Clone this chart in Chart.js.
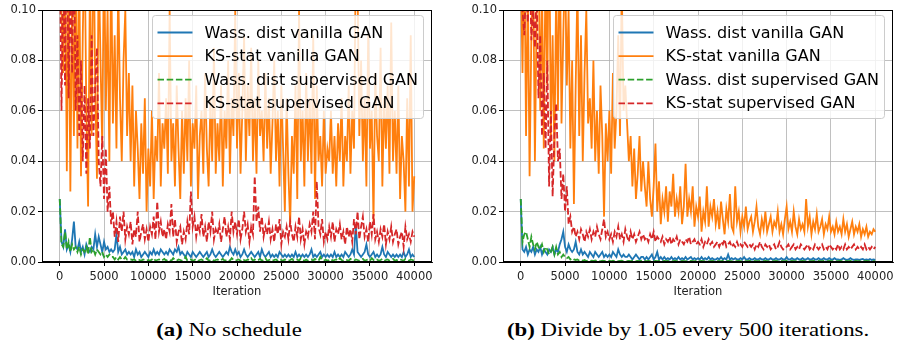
<!DOCTYPE html>
<html>
<head>
<meta charset="utf-8">
<script src="https://cdn.jsdelivr.net/npm/chart.js@4.4.1/dist/chart.umd.min.js"></script>
<style>
  html, body { margin: 0; padding: 0; background: #fff; }
  body { width: 899px; height: 347px; position: relative; overflow: hidden; }
  canvas { position: absolute; top: 0; }
  #cA { left: 0; }
  #cB { left: 450px; }
  .cap { position: absolute; top: 320px; white-space: nowrap; font-family: "Liberation Serif", serif;
         font-size: 19px; line-height: 20px; color: #000; transform: translateX(-50%) scaleX(1.2); }
  .cap b { font-weight: bold; }
</style>
</head>
<body>
<canvas id="cA" width="450" height="305"></canvas>
<canvas id="cB" width="449" height="305"></canvas>
<div class="cap" style="left:229px"><b>(a)</b> No schedule</div>
<div class="cap" style="left:688px"><b>(b)</b> Divide by 1.05 every 500 iterations.</div>
<script>
// ---------- data ----------
const iterationStep = 200;
const iterations = Array.from({ length: 201 }, (_, i) => i * iterationStep);
const xTicks = [0, 5000, 10000, 15000, 20000, 25000, 30000, 35000, 40000];
const yTicks = [0, 0.02, 0.04, 0.06, 0.08, 0.10];
const seriesLabels = ["Wass. dist vanilla GAN", "KS-stat vanilla GAN", "Wass. dist supervised GAN", "KS-stat supervised GAN"];
const xTitle = "Iteration";

// (a) No schedule
const wassVanillaA = [
0.025,0.008,0.006,0.013,0.005,0.007,0.004,0.009,0.016,0.006,
0.005,0.008,0.004,0.006,0.003,0.007,0.005,0.004,0.006,0.005,
0.011,0.006,0.010,0.007,0.004,0.008,0.005,0.006,0.004,0.005,
0.004,0.005,0.011,0.004,0.006,0.003,0.004,0.005,0.003,0.004,
0.003,0.004,0.002,0.005,0.003,0.004,0.002,0.003,0.004,0.003,
0.002,0.004,0.003,0.005,0.003,0.004,0.003,0.005,0.004,0.003,
0.004,0.003,0.005,0.004,0.003,0.005,0.004,0.006,0.003,0.004,
0.003,0.002,0.004,0.003,0.002,0.004,0.003,0.002,0.003,0.004,
0.003,0.002,0.003,0.004,0.002,0.003,0.005,0.003,0.002,0.003,
0.004,0.003,0.002,0.003,0.004,0.003,0.006,0.004,0.003,0.005,
0.003,0.004,0.002,0.003,0.005,0.003,0.002,0.003,0.004,0.003,
0.002,0.003,0.004,0.002,0.005,0.003,0.002,0.003,0.004,0.002,
0.003,0.002,0.003,0.002,0.004,0.003,0.002,0.003,0.002,0.003,
0.002,0.003,0.002,0.004,0.002,0.003,0.002,0.003,0.002,0.003,
0.002,0.003,0.005,0.002,0.003,0.002,0.003,0.004,0.002,0.003,
0.002,0.003,0.002,0.003,0.002,0.004,0.002,0.003,0.002,0.003,
0.002,0.004,0.003,0.002,0.003,0.005,0.003,0.015,0.004,0.003,
0.002,0.003,0.004,0.007,0.003,0.002,0.003,0.004,0.002,0.003,
0.002,0.003,0.006,0.003,0.002,0.004,0.003,0.002,0.003,0.002,
0.003,0.002,0.003,0.002,0.004,0.002,0.003,0.005,0.002,0.003,
0.002];
const ksVanillaA = [
0.12,0.10,0.075,0.13,0.036,0.12,0.028,0.11,0.05,0.13,
0.045,0.12,0.034,0.09,0.13,0.06,0.022,0.11,0.05,0.14,
0.07,0.033,0.12,0.08,0.045,0.13,0.06,0.10,0.04,0.12,
0.055,0.09,0.045,0.11,0.065,0.04,0.08,0.10,0.05,0.075,
0.04,0.07,0.03,0.06,0.045,0.025,0.055,0.035,0.065,0.02,
0.045,0.03,0.06,0.025,0.05,0.04,0.075,0.03,0.055,0.045,
0.065,0.035,0.10,0.04,0.055,0.03,0.07,0.045,0.025,0.06,
0.035,0.065,0.04,0.08,0.03,0.055,0.045,0.07,0.025,0.05,
0.06,0.035,0.075,0.045,0.03,0.065,0.04,0.085,0.035,0.055,
0.04,0.07,0.03,0.06,0.045,0.08,0.035,0.065,0.05,0.10,
0.045,0.075,0.035,0.06,0.09,0.04,0.07,0.05,0.085,0.04,
0.065,0.035,0.08,0.05,0.06,0.04,0.075,0.045,0.065,0.035,
0.055,0.08,0.04,0.06,0.03,0.07,0.045,0.02,0.065,0.035,
0.015,0.05,0.035,0.07,0.025,0.10,0.04,0.06,0.03,0.075,
0.04,0.065,0.035,0.09,0.025,0.07,0.04,0.05,0.03,0.06,
0.035,0.045,0.04,0.06,0.035,0.05,0.03,0.055,0.04,0.065,
0.03,0.05,0.04,0.07,0.035,0.06,0.045,0.12,0.11,0.05,
0.08,0.04,0.065,0.03,0.09,0.045,0.06,0.016,0.075,0.05,
0.04,0.085,0.03,0.065,0.045,0.07,0.035,0.095,0.04,0.06,
0.035,0.07,0.025,0.05,0.04,0.02,0.065,0.03,0.09,0.02,
0.034];
const wassSupervisedA = [
0.025,0.007,0.006,0.012,0.005,0.008,0.004,0.007,0.005,0.006,
0.004,0.006,0.003,0.005,0.004,0.006,0.003,0.010,0.004,0.005,
0.003,0.005,0.004,0.003,0.004,0.002,0.003,0.002,0.003,0.002,
0.002,0.001,0.002,0.001,0.002,0.001,0.001,0.002,0.001,0.001,
0.001,0.0008,0.001,0.0005,0.001,0.0008,0.0005,0.001,0.0008,0.0005,
0.0008,0.0005,0.001,0.0015,0.0005,0.0008,0.001,0.0005,0.0008,0.0012,
0.0005,0.001,0.0008,0.0005,0.0015,0.0008,0.0005,0.001,0.0008,0.0005,
0.0008,0.002,0.0005,0.0008,0.001,0.0005,0.0008,0.0012,0.0005,0.0008,
0.001,0.0005,0.0008,0.0015,0.0005,0.0008,0.001,0.0005,0.0008,0.001,
0.0005,0.0008,0.0012,0.0005,0.0008,0.001,0.0005,0.0015,0.0008,0.0005,
0.0008,0.001,0.0005,0.0012,0.0008,0.0005,0.001,0.0008,0.0015,0.0005,
0.001,0.0005,0.0008,0.0012,0.0005,0.0008,0.0015,0.0005,0.0008,0.001,
0.0005,0.0008,0.001,0.0005,0.0012,0.0008,0.0005,0.001,0.0008,0.0005,
0.0008,0.0012,0.0005,0.0008,0.001,0.0005,0.0015,0.0008,0.0005,0.001,
0.0005,0.0008,0.001,0.0005,0.0012,0.0008,0.0005,0.002,0.0008,0.0005,
0.001,0.0005,0.0008,0.0012,0.0005,0.0008,0.001,0.0005,0.0015,0.0008,
0.0005,0.001,0.0008,0.0005,0.0012,0.0008,0.0005,0.001,0.0008,0.0005,
0.0008,0.0012,0.0005,0.0008,0.001,0.0005,0.0015,0.0008,0.0005,0.001,
0.0005,0.0008,0.0012,0.0005,0.0008,0.001,0.0005,0.0008,0.0012,0.0005,
0.0008,0.0005,0.001,0.0008,0.0005,0.0012,0.0008,0.0005,0.001,0.0008,
0.0005];
const ksSupervisedA = [
0.13,0.06,0.12,0.07,0.14,0.065,0.11,0.075,0.13,0.06,
0.09,0.05,0.08,0.04,0.07,0.035,0.065,0.045,0.09,0.05,
0.07,0.085,0.04,0.03,0.05,0.025,0.045,0.02,0.03,0.015,
0.02,0.01,0.016,0.008,0.018,0.012,0.02,0.009,0.014,0.011,
0.016,0.007,0.013,0.01,0.02,0.008,0.012,0.015,0.009,0.013,
0.008,0.014,0.011,0.018,0.009,0.024,0.012,0.016,0.01,0.013,
0.009,0.015,0.012,0.023,0.01,0.017,0.008,0.012,0.014,0.007,
0.012,0.009,0.016,0.011,0.028,0.014,0.018,0.01,0.015,0.012,
0.019,0.01,0.014,0.008,0.016,0.012,0.02,0.009,0.013,0.011,
0.015,0.008,0.013,0.018,0.01,0.014,0.009,0.02,0.012,0.016,
0.011,0.017,0.009,0.013,0.02,0.012,0.015,0.008,0.014,0.011,
0.034,0.016,0.022,0.012,0.018,0.01,0.014,0.011,0.016,0.009,
0.013,0.008,0.015,0.011,0.017,0.007,0.012,0.01,0.014,0.009,
0.016,0.011,0.008,0.014,0.01,0.018,0.009,0.013,0.007,0.012,
0.01,0.015,0.012,0.02,0.009,0.032,0.014,0.011,0.017,0.008,
0.012,0.009,0.014,0.01,0.016,0.008,0.013,0.011,0.015,0.009,
0.012,0.007,0.014,0.01,0.013,0.008,0.017,0.011,0.02,0.009,
0.014,0.018,0.01,0.013,0.008,0.016,0.011,0.019,0.009,0.012,
0.008,0.013,0.01,0.015,0.007,0.012,0.009,0.014,0.008,0.011,
0.013,0.007,0.01,0.012,0.006,0.014,0.009,0.011,0.008,0.012,
0.01];

// (b) Divide by 1.05 every 500 iterations
const wassVanillaB = [
0.025,0.005,0.004,0.006,0.003,0.005,0.004,0.006,0.003,0.005,
0.004,0.006,0.003,0.005,0.004,0.003,0.005,0.004,0.006,0.003,
0.005,0.004,0.007,0.009,0.012,0.006,0.004,0.007,0.005,0.004,
0.005,0.008,0.004,0.003,0.005,0.003,0.004,0.003,0.002,0.004,
0.003,0.002,0.004,0.003,0.002,0.003,0.004,0.002,0.003,0.002,
0.003,0.002,0.004,0.003,0.002,0.005,0.003,0.002,0.003,0.002,
0.002,0.003,0.002,0.001,0.002,0.003,0.002,0.001,0.002,0.002,
0.001,0.002,0.001,0.002,0.003,0.001,0.002,0.004,0.001,0.002,
0.001,0.002,0.001,0.0015,0.001,0.002,0.001,0.0015,0.001,0.002,
0.001,0.0015,0.001,0.002,0.001,0.0015,0.002,0.001,0.0015,0.001,
0.0015,0.001,0.002,0.001,0.0015,0.001,0.002,0.001,0.0015,0.001,
0.001,0.0015,0.001,0.002,0.001,0.0015,0.001,0.003,0.001,0.0015,
0.001,0.0015,0.001,0.001,0.0015,0.001,0.002,0.001,0.001,0.0015,
0.001,0.001,0.0015,0.001,0.001,0.0015,0.001,0.001,0.0015,0.001,
0.001,0.0015,0.001,0.001,0.0015,0.001,0.001,0.0015,0.001,0.001,
0.002,0.001,0.001,0.0015,0.001,0.001,0.0015,0.001,0.001,0.0015,
0.001,0.001,0.0015,0.001,0.001,0.0015,0.001,0.001,0.0015,0.001,
0.001,0.0015,0.001,0.001,0.0015,0.001,0.001,0.0015,0.001,0.001,
0.0008,0.001,0.0015,0.001,0.0008,0.001,0.0015,0.001,0.0008,0.001,
0.001,0.0008,0.001,0.0012,0.0008,0.001,0.0008,0.0012,0.0008,0.001,
0.0008];
const ksVanillaB = [
0.12,0.075,0.13,0.05,0.11,0.034,0.09,0.12,0.04,0.10,
0.13,0.06,0.11,0.045,0.12,0.07,0.14,0.05,0.09,0.04,
0.11,0.06,0.13,0.055,0.09,0.12,0.07,0.10,0.045,0.08,
0.023,0.07,0.11,0.05,0.09,0.04,0.075,0.10,0.055,0.065,
0.045,0.08,0.04,0.06,0.035,0.07,0.05,0.018,0.055,0.04,
0.06,0.035,0.075,0.045,0.06,0.09,0.05,0.11,0.06,0.07,
0.055,0.04,0.05,0.03,0.045,0.025,0.035,0.05,0.028,0.04,
0.03,0.022,0.04,0.025,0.018,0.03,0.047,0.02,0.032,0.015,
0.025,0.02,0.03,0.016,0.028,0.022,0.035,0.018,0.025,0.02,
0.03,0.015,0.022,0.039,0.018,0.025,0.02,0.03,0.014,0.022,
0.018,0.026,0.012,0.02,0.016,0.03,0.014,0.022,0.018,0.025,
0.015,0.02,0.013,0.024,0.017,0.011,0.021,0.016,0.027,0.014,
0.012,0.03,0.016,0.02,0.012,0.018,0.014,0.022,0.013,0.016,
0.018,0.012,0.016,0.022,0.014,0.011,0.017,0.013,0.02,0.012,
0.015,0.018,0.012,0.016,0.014,0.02,0.012,0.015,0.011,0.017,
0.022,0.013,0.016,0.012,0.02,0.014,0.011,0.017,0.013,0.015,
0.012,0.025,0.014,0.018,0.011,0.016,0.013,0.019,0.012,0.014,
0.017,0.011,0.015,0.013,0.018,0.012,0.014,0.011,0.016,0.012,
0.014,0.011,0.017,0.012,0.015,0.01,0.013,0.016,0.011,0.014,
0.012,0.015,0.01,0.013,0.011,0.014,0.01,0.012,0.011,0.013,
0.012];
const wassSupervisedB = [
0.025,0.008,0.011,0.012,0.009,0.006,0.01,0.007,0.005,0.008,
0.006,0.005,0.007,0.004,0.006,0.005,0.003,0.004,0.006,0.003,
0.006,0.003,0.004,0.002,0.003,0.002,0.0015,0.002,0.001,0.0015,
0.001,0.0008,0.001,0.0005,0.0008,0.0005,0.0008,0.0004,0.0006,0.0004,
0.0005,0.0004,0.0006,0.0004,0.0005,0.0003,0.0005,0.0004,0.0003,0.0005,
0.0004,0.0003,0.0005,0.0003,0.0004,0.0003,0.0004,0.0005,0.0003,0.0004,
0.0003,0.0004,0.0003,0.0005,0.0004,0.0003,0.0004,0.0003,0.0005,0.0003,
0.0004,0.0003,0.0004,0.0003,0.0005,0.0003,0.0004,0.0003,0.0004,0.0003,
0.0003,0.0004,0.0003,0.0004,0.0003,0.0004,0.0003,0.0005,0.0003,0.0004,
0.0003,0.0004,0.0003,0.0003,0.0004,0.0003,0.0004,0.0003,0.0003,0.0004,
0.0003,0.0003,0.0004,0.0003,0.0003,0.0004,0.0003,0.0003,0.0004,0.0003,
0.0003,0.0004,0.0003,0.0003,0.0004,0.0003,0.0003,0.0004,0.0003,0.0003,
0.0004,0.0003,0.0003,0.0004,0.0003,0.0003,0.0004,0.0003,0.0003,0.0004,
0.0003,0.0003,0.0004,0.0003,0.0003,0.0004,0.0003,0.0003,0.0004,0.0003,
0.0003,0.0004,0.0003,0.0003,0.0004,0.0003,0.0003,0.0004,0.0003,0.0003,
0.0004,0.0003,0.0003,0.0004,0.0003,0.0003,0.0004,0.0003,0.0003,0.0004,
0.0003,0.0003,0.0004,0.0003,0.0003,0.0004,0.0003,0.0003,0.0004,0.0003,
0.0003,0.0004,0.0003,0.0003,0.0004,0.0003,0.0003,0.0004,0.0003,0.0003,
0.0004,0.0003,0.0003,0.0004,0.0003,0.0003,0.0004,0.0003,0.0003,0.0004,
0.0003,0.0003,0.0004,0.0003,0.0003,0.0004,0.0003,0.0003,0.0004,0.0003,
0.0003];
const ksSupervisedB = [
0.12,0.10,0.09,0.11,0.095,0.12,0.088,0.10,0.085,0.11,
0.065,0.09,0.05,0.075,0.045,0.08,0.03,0.06,0.026,0.05,
0.063,0.04,0.045,0.025,0.035,0.02,0.03,0.015,0.018,0.012,
0.014,0.01,0.012,0.009,0.013,0.011,0.008,0.012,0.01,0.013,
0.009,0.012,0.01,0.014,0.011,0.009,0.013,0.017,0.01,0.012,
0.009,0.011,0.008,0.012,0.01,0.014,0.009,0.011,0.008,0.013,
0.01,0.008,0.012,0.009,0.011,0.008,0.01,0.012,0.009,0.011,
0.009,0.01,0.008,0.011,0.009,0.012,0.008,0.01,0.009,0.008,
0.01,0.007,0.009,0.008,0.01,0.007,0.009,0.008,0.01,0.007,
0.009,0.008,0.007,0.009,0.008,0.01,0.007,0.008,0.009,0.007,
0.008,0.007,0.009,0.006,0.008,0.007,0.009,0.007,0.008,0.006,
0.007,0.008,0.006,0.008,0.007,0.009,0.006,0.007,0.008,0.006,
0.007,0.006,0.008,0.006,0.007,0.006,0.008,0.007,0.006,0.007,
0.006,0.007,0.005,0.007,0.006,0.008,0.006,0.005,0.007,0.006,
0.007,0.005,0.006,0.007,0.005,0.006,0.008,0.006,0.005,0.006,
0.006,0.007,0.005,0.006,0.007,0.005,0.006,0.005,0.007,0.006,
0.005,0.006,0.007,0.005,0.006,0.005,0.007,0.006,0.005,0.006,
0.007,0.005,0.006,0.005,0.007,0.006,0.005,0.006,0.005,0.007,
0.005,0.006,0.005,0.007,0.005,0.006,0.005,0.006,0.007,0.005,
0.006,0.005,0.006,0.005,0.007,0.005,0.006,0.005,0.006,0.005,
0.006];

// ---------- styling ----------
const seriesColors = ["#1f77b4", "#ff7f0e", "#2ca02c", "#d62728"];
const seriesDash = [[], [], [6.5, 2.7], [6.5, 2.7]];
const seriesOrder = [4, 3, 2, 1]; // red drawn on top, like matplotlib
const lineW = 1.8;

const framePlugin = {
  id: 'frame',
  afterDatasetsDraw(chart) {
    const { ctx, chartArea: a } = chart;
    ctx.save();
    ctx.strokeStyle = '#000';
    ctx.lineWidth = 1;
    ctx.strokeRect(Math.round(a.left) + 0.5, Math.round(a.top) + 0.5,
                   Math.round(a.right - a.left) - 1, Math.round(a.bottom - a.top) - 1);
    ctx.restore();
  }
};

const boxLegendPlugin = {
  id: 'boxLegend',
  afterDatasetsDraw(chart) {
    const { ctx, chartArea: a } = chart;
    const ds = chart.data.datasets;
    ctx.save();
    ctx.font = '16px "DejaVu Sans"';
    const tw = Math.max(...ds.map(d => ctx.measureText(d.label).width));
    const w = Math.round(5 + 35 + 12 + tw + 6);
    const h = 103;
    const x = Math.round(a.right - 9 - w) + 0.5;
    const y = Math.round(a.top + 5) + 0.5;
    const r = 3;
    ctx.beginPath();
    ctx.moveTo(x + r, y);
    ctx.lineTo(x + w - r, y); ctx.arcTo(x + w, y, x + w, y + r, r);
    ctx.lineTo(x + w, y + h - r); ctx.arcTo(x + w, y + h, x + w - r, y + h, r);
    ctx.lineTo(x + r, y + h); ctx.arcTo(x, y + h, x, y + h - r, r);
    ctx.lineTo(x, y + r); ctx.arcTo(x, y, x + r, y, r);
    ctx.closePath();
    ctx.fillStyle = 'rgba(255,255,255,0.8)';
    ctx.fill();
    ctx.strokeStyle = '#cccccc';
    ctx.lineWidth = 1;
    ctx.stroke();
    ctx.textBaseline = 'middle';
    ctx.textAlign = 'left';
    ds.forEach((d, i) => {
      const cy = y + 17 + i * 23.6;
      ctx.beginPath();
      ctx.setLineDash(d.borderDash || []);
      ctx.strokeStyle = d.borderColor;
      ctx.lineWidth = lineW;
      ctx.moveTo(x + 5, cy);
      ctx.lineTo(x + 40, cy);
      ctx.stroke();
      ctx.setLineDash([]);
      ctx.fillStyle = '#000';
      ctx.fillText(d.label, x + 52, cy + 1);
    });
    ctx.restore();
  }
};

function makeChart(canvasId, seriesList, yAxisWidth, rightPad) {
  const datasets = seriesList.map((vals, k) => ({
    label: seriesLabels[k],
    data: vals.map((v, i) => ({ x: iterations[i], y: v })),
    borderColor: seriesColors[k],
    backgroundColor: seriesColors[k],
    borderDash: seriesDash[k],
    borderWidth: lineW,
    pointRadius: 0,
    tension: 0,
    fill: false,
    order: seriesOrder[k]
  }));
  const tickFont = { family: '"DejaVu Sans"', size: 11.5 };
  return new Chart(document.getElementById(canvasId), {
    type: 'line',
    data: { datasets },
    options: {
      responsive: false,
      animation: false,
      devicePixelRatio: 1,
      layout: { padding: { top: 10, left: 0, right: rightPad, bottom: 0 } },
      plugins: { legend: { display: false }, tooltip: { enabled: false } },
      scales: {
        x: {
          type: 'linear',
          min: -2000,
          max: 42000,
          afterBuildTicks: s => { s.ticks = xTicks.map(v => ({ value: v })); },
          afterFit: s => { s.height = 43; },
          ticks: { font: tickFont, color: '#222', maxRotation: 0, autoSkip: false, padding: 4,
                   callback: v => String(v) },
          grid: { color: '#b0b0b0', lineWidth: 0.8, tickLength: 4, tickColor: '#000', tickWidth: 1 },
          border: { display: true, color: '#000', width: 1 },
          title: { display: true, text: xTitle, font: tickFont, color: '#222', padding: { top: 0, bottom: 6 } }
        },
        y: {
          min: 0,
          max: 0.1,
          afterBuildTicks: s => { s.ticks = yTicks.map(v => ({ value: v })); },
          afterFit: s => { s.width = yAxisWidth; },
          ticks: { font: tickFont, color: '#222', padding: 2, callback: v => Number(v).toFixed(2) },
          grid: { color: '#b0b0b0', lineWidth: 0.8, tickLength: 4, tickColor: '#000', tickWidth: 1 },
          border: { display: true, color: '#000', width: 1 }
        }
      }
    },
    plugins: [framePlugin, boxLegendPlugin]
  });
}

makeChart('cA', [wassVanillaA, ksVanillaA, wassSupervisedA, ksSupervisedA], 42, 18);
makeChart('cB', [wassVanillaB, ksVanillaB, wassSupervisedB, ksSupervisedB], 53, 6);
</script>
</body>
</html>
